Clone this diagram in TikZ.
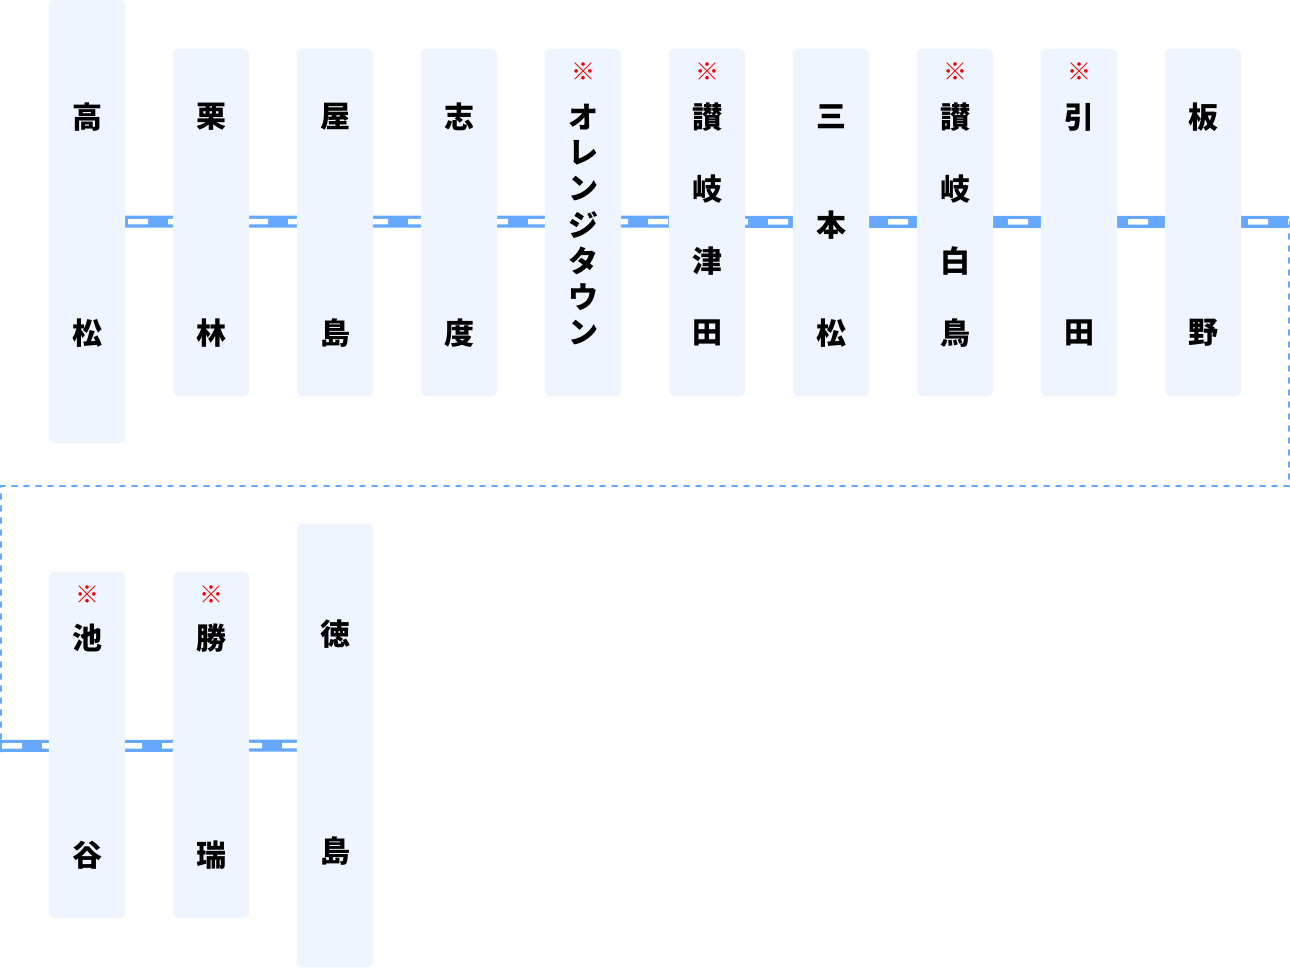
\documentclass[tikz,border=0pt]{standalone}
\usepackage{fontspec}
\newfontfamily\jp{Noto Sans CJK JP}
\definecolor{boxfill}{HTML}{EEF5FF}
\definecolor{rail}{HTML}{64A8FF}
\definecolor{markred}{HTML}{F00000}
\tikzset{
  box/.style={fill=boxfill, draw=none, rounded corners=6pt, minimum width=76pt, inner sep=0pt},
  ch/.style={inner sep=0pt, text=black, font=\jp\bfseries\fontsize{30}{30}\selectfont},
  mk/.style={inner sep=0pt, text=markred, font=\jp\fontsize{24}{24}\selectfont},
  railbar/.style={draw=rail, line width=12pt},
  railgap/.style={draw=white, line width=5.5pt, dash pattern=on 20pt off 20pt},
  link/.style={draw=rail, line width=2pt, line cap=round, dash pattern=on 5pt off 7pt}
}
\begin{document}
\begin{tikzpicture}[x=1pt,y=-1pt]
\useasboundingbox (0,0) rectangle (1290,968);
% connector coordinates
\coordinate (e1) at (1289,222);
\coordinate (k1) at (1289,486);
\coordinate (k2) at (1,486);
\coordinate (k3) at (1,746);
\coordinate (e2) at (0,746);
% boxes
\node[box, minimum height=443pt] (s0) at (87,221.5) {};
\node[box, minimum height=347pt] (s1) at (211,222.5) {};
\node[box, minimum height=347pt] (s2) at (335,222.5) {};
\node[box, minimum height=347pt] (s3) at (459,222.5) {};
\node[box, minimum height=347pt] (s4) at (583,222.5) {};
\node[box, minimum height=347pt] (s5) at (707,222.5) {};
\node[box, minimum height=347pt] (s6) at (831,222.5) {};
\node[box, minimum height=347pt] (s7) at (955,222.5) {};
\node[box, minimum height=347pt] (s8) at (1079,222.5) {};
\node[box, minimum height=347pt] (s9) at (1203,222.5) {};
\node[box, minimum height=346pt] (s10) at (87,745) {};
\node[box, minimum height=346pt] (s11) at (211,745) {};
\node[box, minimum height=443pt] (s12) at (335,745.5) {};
% rails
\path[link] (e1) -- (k1) -- (k2) -- (k3);
\path[railbar] (s0.center) -- (e1);
\path[railgap, dash phase=39pt] (s0.center) -- (e1);
\path[railbar] (e2) -- (s12.center);
\path[railgap, dash phase=38pt] (e2) -- (s12.center);
% boxes again on top of the rails
\foreach \s in {s0,s1,s2,s3,s4,s5,s6,s7,s8,s9,s10,s11,s12}{
  \path[fill=boxfill, rounded corners=6pt] (\s.north west) rectangle (\s.south east);
}
% texts row 1
\node[ch] (t0a) at (87,117) {高};
\node[ch] (t0b) at (87,333) {松};
\node[ch] (t1a) at (211,117) {栗};
\node[ch] (t1b) at (211,333) {林};
\node[ch] (t2a) at (335,117) {屋};
\node[ch] (t2b) at (335,333) {島};
\node[ch] (t3a) at (459,117) {志};
\node[ch] (t3b) at (459,333) {度};
\node[mk] (m4) at (583,72) {※};
\node[ch] (t4a) at (583,117) {オ};
\node[ch] (t4b) at (583,153) {レ};
\node[ch] (t4c) at (583,189) {ン};
\node[ch] (t4d) at (583,225) {ジ};
\node[ch] (t4e) at (583,261) {タ};
\node[ch] (t4f) at (583,297) {ウ};
\node[ch] (t4g) at (583,333) {ン};
\node[mk] (m5) at (707,72) {※};
\node[ch] (t5a) at (707,117) {讃};
\node[ch] (t5b) at (707,189) {岐};
\node[ch] (t5c) at (707,261) {津};
\node[ch] (t5d) at (707,333) {田};
\node[ch] (t6a) at (831,117) {三};
\node[ch] (t6b) at (831,225) {本};
\node[ch] (t6c) at (831,333) {松};
\node[mk] (m7) at (955,72) {※};
\node[ch] (t7a) at (955,117) {讃};
\node[ch] (t7b) at (955,189) {岐};
\node[ch] (t7c) at (955,261) {白};
\node[ch] (t7d) at (955,333) {鳥};
\node[mk] (m8) at (1079,72) {※};
\node[ch] (t8a) at (1079,117) {引};
\node[ch] (t8b) at (1079,333) {田};
\node[ch] (t9a) at (1203,117) {板};
\node[ch] (t9b) at (1203,333) {野};
% texts row 2
\node[mk] (m10) at (87,595) {※};
\node[ch] (t10a) at (87,638) {池};
\node[ch] (t10b) at (87,855) {谷};
\node[mk] (m11) at (211,595) {※};
\node[ch] (t11a) at (211,638) {勝};
\node[ch] (t11b) at (211,855) {瑞};
\node[ch] (t12a) at (335,634) {徳};
\node[ch] (t12b) at (335,851) {島};
\end{tikzpicture}
\end{document}
